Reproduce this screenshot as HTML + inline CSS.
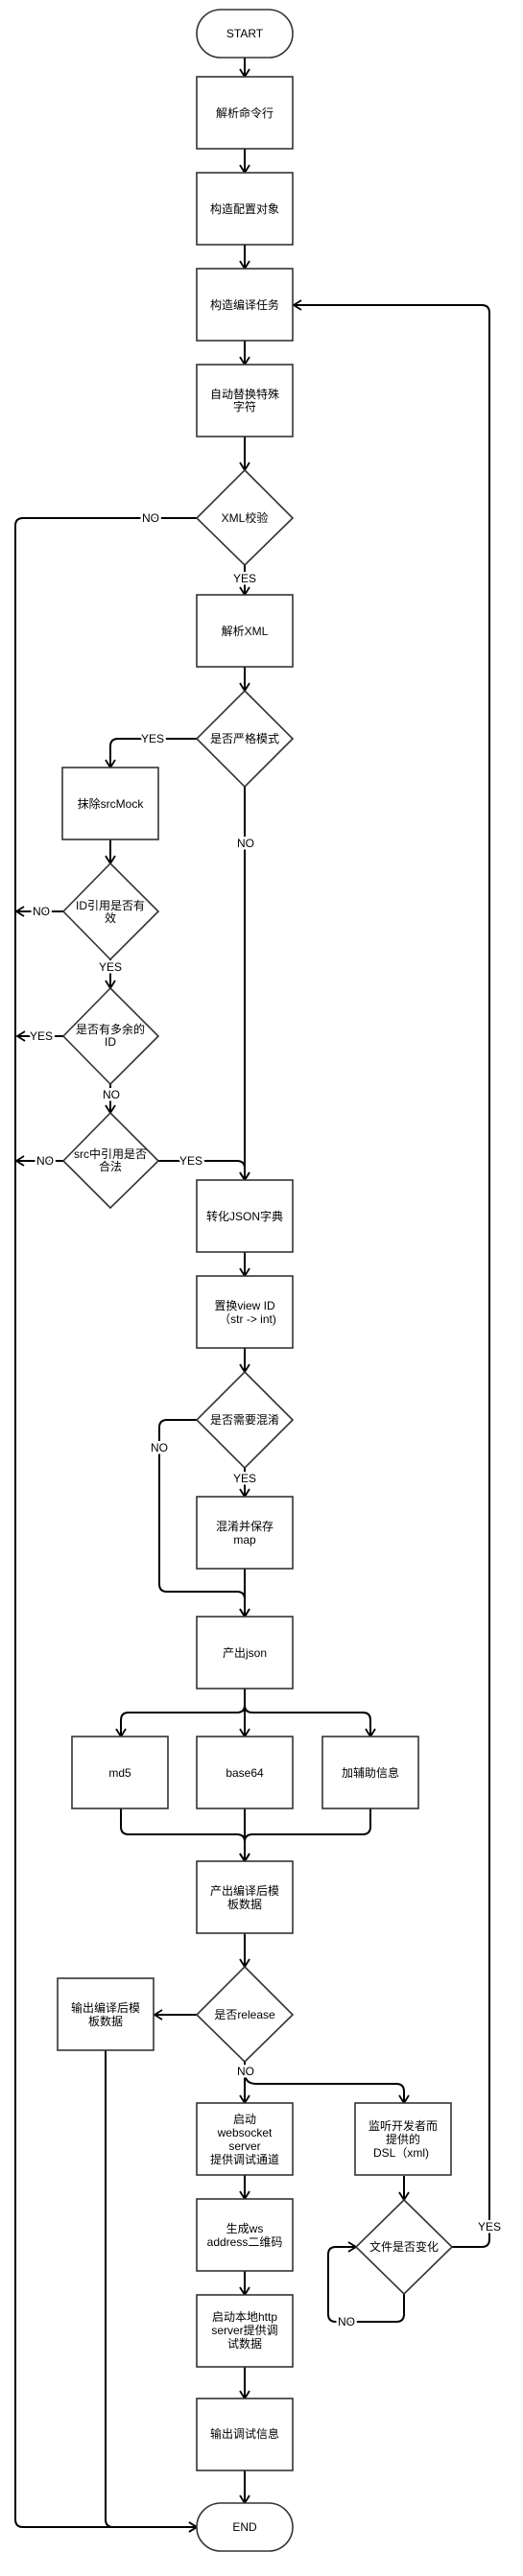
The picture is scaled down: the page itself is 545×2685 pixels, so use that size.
<!DOCTYPE html>
<html><head><meta charset="utf-8"><style>
html,body{margin:0;padding:0;background:#fff;}
svg{display:block;}
text{font-family:"Liberation Sans","Noto Sans CJK SC",sans-serif;font-size:12px;fill:#000;text-anchor:middle;dominant-baseline:central;}
.lbl{stroke:#fff;stroke-width:5px;paint-order:stroke;}
.n{fill:#fff;stroke:#333;stroke-width:1.6;}
.c{fill:none;stroke:#000;stroke-width:2;}
</style></head><body>
<svg width="545" height="2685" viewBox="0 0 545 2685" xmlns="http://www.w3.org/2000/svg">
<defs>
<marker id="a" markerUnits="userSpaceOnUse" markerWidth="14" markerHeight="14" refX="9" refY="6" orient="auto" viewBox="0 0 14 12">
<path d="M1,1 L9,6 L1,11" fill="none" stroke="#000" stroke-width="1.8"/>
</marker>
</defs>

<!-- connectors -->
<g class="c" marker-end="url(#a)">
<path d="M255,60 V80"/>
<path d="M255,155 V180"/>
<path d="M255,255 V280"/>
<path d="M255,355 V380"/>
<path d="M255,455 V490"/>
<path d="M205,540 H24 Q16,540 16,548 V2626 Q16,2634 24,2634 H205"/>
<path d="M255,589 V620"/>
<path d="M255,695 V720"/>
<path d="M205,770 H123 Q115,770 115,778 V800"/>
<path d="M255,820 V1230"/>
<path d="M115,875 V900"/>
<path d="M66,950 H17"/>
<path d="M115,1000 V1030"/>
<path d="M66,1080 H18"/>
<path d="M115,1130 V1160"/>
<path d="M66,1210 H17"/>
<path d="M165,1210 H247 Q255,1210 255,1218 V1230"/>
<path d="M255,1305 V1330"/>
<path d="M255,1405 V1430"/>
<path d="M255,1530 V1560"/>
<path d="M205,1480 H174 Q166,1480 166,1488 V1651 Q166,1659 174,1659 H247 Q255,1659 255,1667 V1685"/>
<path d="M255,1635 V1685"/>
<path d="M255,1760 V1810"/>
<path d="M255,1760 V1777 Q255,1785 247,1785 H134 Q126,1785 126,1793 V1810"/>
<path d="M255,1760 V1777 Q255,1785 263,1785 H378 Q386,1785 386,1793 V1810"/>
<path d="M255,1885 V1940"/>
<path d="M126,1885 V1904 Q126,1912 134,1912 H247 Q255,1912 255,1920 V1940"/>
<path d="M386,1885 V1904 Q386,1912 378,1912 H263 Q255,1912 255,1920 V1940"/>
<path d="M255,2015 V2050"/>
<path d="M205,2100 H161"/>
<path d="M110,2137 V2626 Q110,2634 118,2634 H205"/>
<path d="M255,2149 V2192"/>
<path d="M255,2160 Q255,2172 267,2172 H413 Q421,2172 421,2180 V2192"/>
<path d="M255,2267 V2292"/>
<path d="M255,2367 V2392"/>
<path d="M255,2467 V2500"/>
<path d="M255,2574 V2609"/>
<path d="M421,2268 V2293"/>
<path d="M471,2342 H502 Q510,2342 510,2334 V326 Q510,318 502,318 H306"/>
<path d="M421,2391 V2412 Q421,2420 413,2420 H350 Q342,2420 342,2412 V2350 Q342,2342 350,2342 H371"/>
</g>

<!-- nodes -->
<rect class="n" x="205" y="10" width="100" height="50" rx="25"/>
<rect class="n" x="205" y="80" width="100" height="75"/>
<rect class="n" x="205" y="180" width="100" height="75"/>
<rect class="n" x="205" y="280" width="100" height="75"/>
<rect class="n" x="205" y="380" width="100" height="75"/>
<polygon class="n" points="255,490 305,540 255,589 205,540"/>
<rect class="n" x="205" y="620" width="100" height="75"/>
<polygon class="n" points="255,720 305,770 255,820 205,770"/>
<rect class="n" x="65" y="800" width="100" height="75"/>
<polygon class="n" points="115,900 165,950 115,1000 66,950"/>
<polygon class="n" points="115,1030 165,1080 115,1130 66,1080"/>
<polygon class="n" points="115,1160 165,1210 115,1259 66,1210"/>
<rect class="n" x="205" y="1230" width="100" height="75"/>
<rect class="n" x="205" y="1330" width="100" height="75"/>
<polygon class="n" points="255,1430 305,1480 255,1530 205,1480"/>
<rect class="n" x="205" y="1560" width="100" height="75"/>
<rect class="n" x="205" y="1685" width="100" height="75"/>
<rect class="n" x="75" y="1810" width="100" height="75"/>
<rect class="n" x="205" y="1810" width="100" height="75"/>
<rect class="n" x="336" y="1810" width="100" height="75"/>
<rect class="n" x="205" y="1940" width="100" height="75"/>
<polygon class="n" points="255,2050 305,2100 255,2149 205,2100"/>
<rect class="n" x="60" y="2062" width="100" height="75"/>
<rect class="n" x="205" y="2192" width="100" height="75"/>
<rect class="n" x="205" y="2292" width="100" height="75"/>
<rect class="n" x="205" y="2392" width="100" height="75"/>
<rect class="n" x="205" y="2500" width="100" height="75"/>
<rect class="n" x="205" y="2609" width="100" height="50" rx="25"/>
<rect class="n" x="370" y="2192" width="100" height="75"/>
<polygon class="n" points="421,2293 471,2342 421,2391 371,2342"/>

<!-- node text -->
<text x="255" y="35">START</text>
<text x="255" y="118">解析命令行</text>
<text x="255" y="218">构造配置对象</text>
<text x="255" y="318">构造编译任务</text>
<text x="255" y="411">自动替换特殊</text>
<text x="255" y="424">字符</text>
<text x="255" y="540">XML校验</text>
<text x="255" y="658">解析XML</text>
<text x="255" y="770">是否严格模式</text>
<text x="115" y="838">抹除srcMock</text>
<text x="115" y="944">ID引用是否有</text>
<text x="115" y="957">效</text>
<text x="115" y="1073">是否有多余的</text>
<text x="115" y="1086">ID</text>
<text x="115" y="1203">src中引用是否</text>
<text x="115" y="1216">合法</text>
<text x="255" y="1268">转化JSON字典</text>
<text x="255" y="1361">置换view ID</text>
<text x="258" y="1375">（str -&gt; int)</text>
<text x="255" y="1480">是否需要混淆</text>
<text x="255" y="1591">混淆并保存</text>
<text x="255" y="1605">map</text>
<text x="255" y="1723">产出json</text>
<text x="125" y="1848">md5</text>
<text x="255" y="1848">base64</text>
<text x="386" y="1848">加辅助信息</text>
<text x="255" y="1971">产出编译后模</text>
<text x="255" y="1985">板数据</text>
<text x="255" y="2100">是否release</text>
<text x="110" y="2093">输出编译后模</text>
<text x="110" y="2107">板数据</text>
<text x="255" y="2209">启动</text>
<text x="255" y="2223">websocket</text>
<text x="255" y="2237">server</text>
<text x="255" y="2251">提供调试通道</text>
<text x="255" y="2323">生成ws</text>
<text x="255" y="2337">address二维码</text>
<text x="255" y="2415">启动本地http</text>
<text x="255" y="2429">server提供调</text>
<text x="255" y="2443">试数据</text>
<text x="255" y="2537">输出调试信息</text>
<text x="255" y="2634">END</text>
<text x="420" y="2216">监听开发者而</text>
<text x="420" y="2230">提供的</text>
<text x="418" y="2244">DSL（xml)</text>
<text x="421" y="2342">文件是否变化</text>

<!-- labels -->
<text class="lbl" x="157" y="540">NO</text>
<text class="lbl" x="255" y="603">YES</text>
<text class="lbl" x="159" y="770">YES</text>
<text class="lbl" x="256" y="879">NO</text>
<text class="lbl" x="43" y="950">NO</text>
<text class="lbl" x="115" y="1008">YES</text>
<text class="lbl" x="43" y="1080">YES</text>
<text class="lbl" x="116" y="1141">NO</text>
<text class="lbl" x="47" y="1210">NO</text>
<text class="lbl" x="199" y="1210">YES</text>
<text class="lbl" x="166" y="1509">NO</text>
<text class="lbl" x="255" y="1541">YES</text>
<text class="lbl" x="256" y="2159">NO</text>
<text class="lbl" x="510" y="2321">YES</text>
<text class="lbl" x="361" y="2420">NO</text>
</svg>
</body></html>
